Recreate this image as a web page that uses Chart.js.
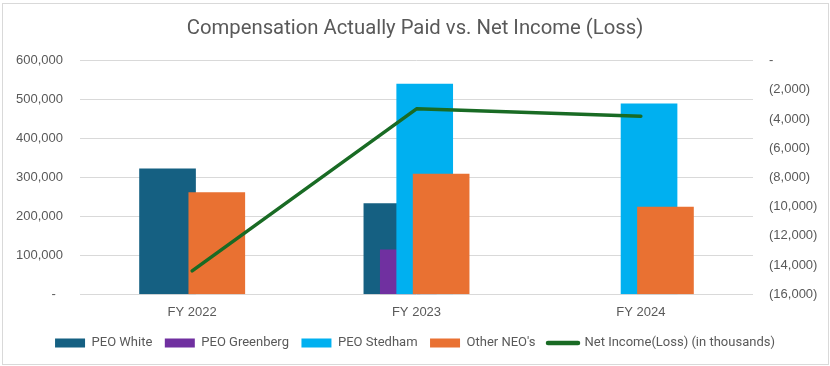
<!DOCTYPE html>
<html>
<head>
<meta charset="utf-8">
<script src="https://cdn.jsdelivr.net/npm/chart.js@4/dist/chart.umd.min.js"></script>
<style>
  html, body { margin: 0; padding: 0; background: #ffffff; }
  #wrap { position: relative; width: 830px; height: 366px; }
  #frame { position: absolute; left: 2px; top: 3px; width: 827px; height: 362px; box-sizing: border-box; border: 1px solid #d9d9d9; }
  #c { position: absolute; left: 0; top: 0; }
</style>
</head>
<body>
<div id="wrap">
  <div id="frame"></div>
  <canvas id="c" width="830" height="366"></canvas>
</div>
<script>
const categories = ['FY 2022', 'FY 2023', 'FY 2024'];
const peoWhite = [322000, 233000, null];
const peoGreenberg = [null, 114000, null];
const peoStedham = [null, 540000, 489000];
const otherNeos = [261000, 309000, 224000];
const netIncome = [-14400, -3300, -3800];
const leftTicks = [0, 100000, 200000, 300000, 400000, 500000, 600000];
const rightTicks = [0, -2000, -4000, -6000, -8000, -10000, -12000, -14000, -16000];

// Excel-style overlapping bar slots (category units)
const slotStep = 0.0732;
const slotOffsets = [-1.5, -0.5, 0.5, 1.5].map(k => k * slotStep);

function barPoints(values, slot) {
  return values.map((v, i) => ({ x: i + slotOffsets[slot], y: v }));
}
function fmtLeft(v) {
  return v === 0 ? '-  ' : v.toLocaleString('en-US');
}
function fmtRight(v) {
  return v === 0 ? '-' : '(' + Math.abs(v).toLocaleString('en-US') + ')';
}

const textColor = '#595959';
const tickFont = { family: '"Liberation Sans", Arial, sans-serif', size: 13 };

new Chart(document.getElementById('c'), {
  type: 'bar',
  data: {
    datasets: [
      { label: 'PEO White', data: barPoints(peoWhite, 0), backgroundColor: '#156082', order: 4 },
      { label: 'PEO Greenberg', data: barPoints(peoGreenberg, 1), backgroundColor: '#7030A0', order: 3 },
      { label: 'PEO Stedham', data: barPoints(peoStedham, 2), backgroundColor: '#00B0F0', order: 2 },
      { label: "Other NEO's", data: barPoints(otherNeos, 3), backgroundColor: '#E97132', order: 1 },
      { type: 'line', label: 'Net Income(Loss) (in thousands)', data: netIncome.map((v, i) => ({ x: i, y: v })),
        yAxisID: 'y1', borderColor: '#196B24', backgroundColor: '#196B24', borderWidth: 3.5,
        pointRadius: 0, tension: 0, borderCapStyle: 'round', borderJoinStyle: 'round', order: 0 }
    ]
  },
  options: {
    responsive: false,
    animation: false,
    layout: { padding: { left: 0, right: 0, top: 0, bottom: 6.5 } },
    datasets: { bar: { grouped: false, barThickness: 56, borderWidth: 0 } },
    scales: {
      x: {
        type: 'linear', min: -0.5, max: 2.5, offset: false,
        afterBuildTicks: axis => { axis.ticks = categories.map((c, i) => ({ value: i })); },
        afterFit: axis => { axis.height = 29.7; },
        grid: { display: false, drawTicks: false },
        border: { display: false },
        ticks: { autoSkip: false, maxRotation: 0, padding: 10, color: textColor, font: tickFont,
                 callback: v => categories[v] }
      },
      y: {
        position: 'left', min: 0, max: 600000,
        afterBuildTicks: axis => { axis.ticks = leftTicks.map(v => ({ value: v })); },
        afterFit: axis => { axis.width = 80; },
        grid: { color: '#d9d9d9', lineWidth: 1, drawTicks: false },
        border: { display: false },
        ticks: { padding: 17, color: textColor, font: tickFont, callback: v => fmtLeft(v) }
      },
      y1: {
        position: 'right', min: -16000, max: 0,
        afterBuildTicks: axis => { axis.ticks = rightTicks.map(v => ({ value: v })); },
        afterFit: axis => { axis.width = 77; },
        grid: { display: false, drawTicks: false },
        border: { display: false },
        ticks: { padding: 16, color: textColor, font: tickFont, callback: v => fmtRight(v) }
      }
    },
    plugins: {
      title: {
        display: true,
        text: 'Compensation Actually Paid vs. Net Income (Loss)',
        color: textColor,
        font: { family: 'Roboto, sans-serif', size: 20.3, weight: 'normal', lineHeight: 1.2 },
        padding: { top: 16.8, bottom: 19.5 }
      },
      legend: {
        position: 'bottom',
        labels: {
          color: textColor,
          font: { family: 'Roboto, sans-serif', size: 13 },
          usePointStyle: true,
          pointStyleWidth: 30,
          boxWidth: 30,
          boxHeight: 9,
          padding: 12.5,
          sort: (a, b) => a.datasetIndex - b.datasetIndex,
          generateLabels: chart => {
            const items = Chart.defaults.plugins.legend.labels.generateLabels(chart);
            return items.map(it => {
              const ds = chart.data.datasets[it.datasetIndex];
              if (ds.type === 'line') {
                it.pointStyle = 'line';
                it.lineWidth = 4.5;
                it.lineCap = 'round';
              } else {
                it.pointStyle = 'rect';
                it.lineWidth = 0;
              }
              return it;
            });
          }
        }
      },
      tooltip: { enabled: false }
    }
  }
});
</script>
</body>
</html>
